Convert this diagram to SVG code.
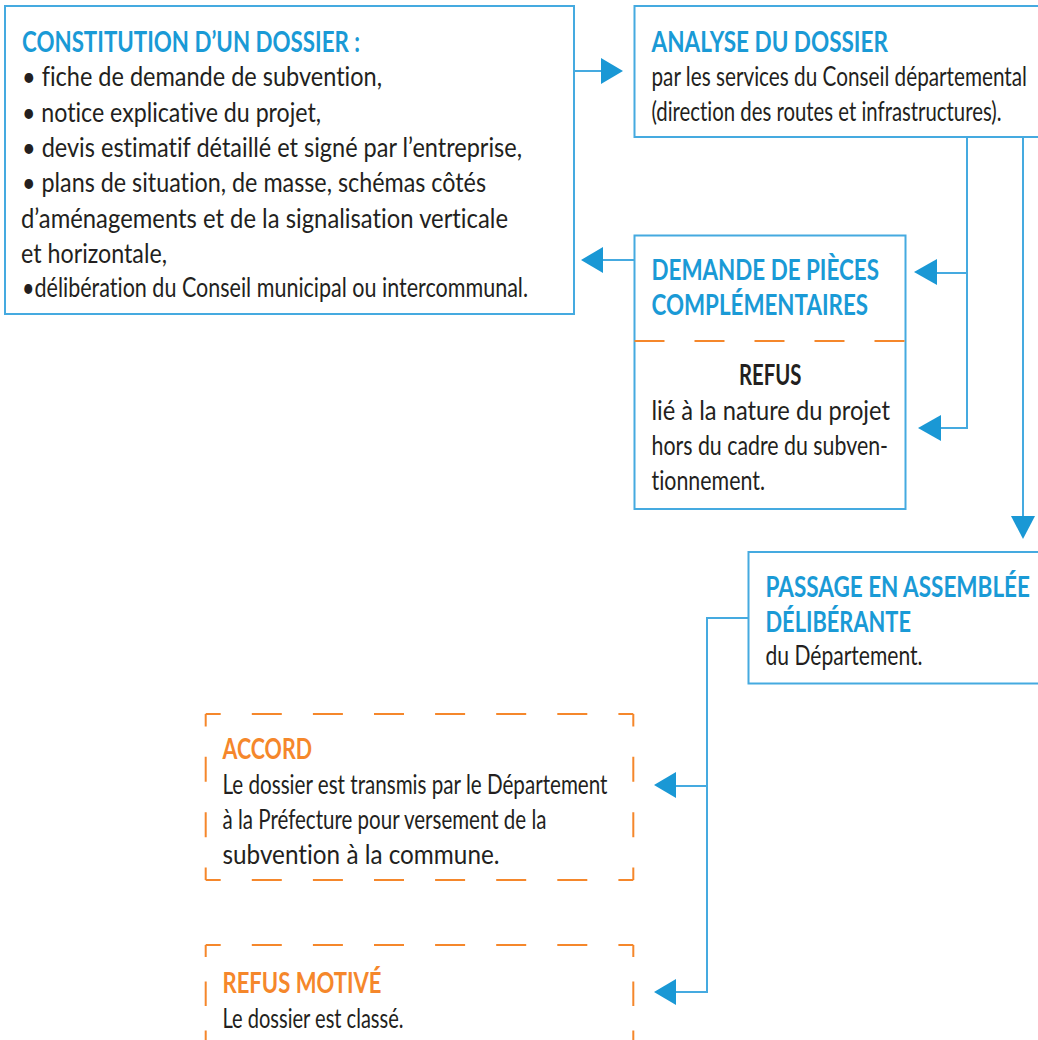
<svg xmlns="http://www.w3.org/2000/svg" width="1038" height="1040" viewBox="0 0 1038 1040">
<style>
.box{fill:#fff;stroke:#45aae0;stroke-width:2}
.ln{fill:none;stroke:#45aae0;stroke-width:2}
.ah{fill:#1a98d5}
text{font-variant-ligatures:none}
.hb{font-family:Lato,"Liberation Sans",sans-serif;font-weight:bold;font-size:28px;fill:#1a9ad6}
.ho{font-family:Lato,"Liberation Sans",sans-serif;font-weight:bold;font-size:28px;fill:#f5872b}
.hd{font-family:Lato,"Liberation Sans",sans-serif;font-weight:bold;font-size:28px;fill:#231f20}
.t{font-family:Lato,"Liberation Sans",sans-serif;font-size:27px;fill:#231f20}
.od{fill:none;stroke:#f5872b;stroke-width:2}
.h{stroke-dasharray:30 31.1;stroke-dashoffset:15}
.v{stroke-dasharray:25 30.33;stroke-dashoffset:12.5}
.v2{stroke-dasharray:24.5 24.5;stroke-dashoffset:12.5}
</style>
<rect width="1038" height="1040" fill="#fff"/>

<g id="connectors">
<line class="ln" x1="574" y1="71" x2="602" y2="71"/>
<polygon class="ah" points="601,58 623,71 601,84"/>
<line class="ln" x1="634" y1="260" x2="602" y2="260"/>
<polygon class="ah" points="603,247 581,260 603,273"/>
<polyline class="ln" points="967,137 967,428 940,428"/>
<line class="ln" x1="967" y1="273" x2="936" y2="273"/>
<polygon class="ah" points="937,259 914,272 937,285"/>
<polygon class="ah" points="941,415 918,428 941,441"/>
<line class="ln" x1="1023" y1="137" x2="1023" y2="517"/>
<polygon class="ah" points="1011,516 1035,516 1023,539"/>
<polyline class="ln" points="748,618 707,618 707,992 675,992"/>
<line class="ln" x1="707" y1="786" x2="675" y2="786"/>
<polygon class="ah" points="676,772 654,785 676,798"/>
<polygon class="ah" points="676,979 654,992 676,1005"/>
</g>

<g id="constitution">
<rect class="box" x="5" y="6" width="569" height="308"/>
<text class="hb" x="22" y="52" textLength="338" lengthAdjust="spacingAndGlyphs">CONSTITUTION D’UN DOSSIER :</text>
<text class="t" x="22" y="86" textLength="360" lengthAdjust="spacingAndGlyphs">• fiche de demande de subvention,</text>
<text class="t" x="22" y="121.5" textLength="299" lengthAdjust="spacingAndGlyphs">• notice explicative du projet,</text>
<text class="t" x="22" y="156.5" textLength="500" lengthAdjust="spacingAndGlyphs">• devis estimatif détaillé et signé par l’entreprise,</text>
<text class="t" x="22" y="192" textLength="464" lengthAdjust="spacingAndGlyphs">• plans de situation, de masse, schémas côtés</text>
<text class="t" x="21" y="227.5" textLength="487" lengthAdjust="spacingAndGlyphs">d’aménagements et de la signalisation verticale</text>
<text class="t" x="21" y="262.5" textLength="146" lengthAdjust="spacingAndGlyphs">et horizontale,</text>
<text class="t" x="22" y="297" textLength="506" lengthAdjust="spacingAndGlyphs">•délibération du Conseil municipal ou intercommunal.</text>
</g>

<g id="analyse">
<rect class="box" x="634.5" y="6" width="410" height="131"/>
<text class="hb" x="651.5" y="52" textLength="236.5" lengthAdjust="spacingAndGlyphs">ANALYSE DU DOSSIER</text>
<text class="t" x="651.5" y="86" textLength="375.5" lengthAdjust="spacingAndGlyphs">par les services du Conseil départemental</text>
<text class="t" x="651.5" y="120.5" textLength="350" lengthAdjust="spacingAndGlyphs">(direction des routes et infrastructures).</text>
</g>

<g id="demande-refus">
<rect class="box" x="634.5" y="235.5" width="271" height="273.5"/>
<line x1="634.5" y1="341" x2="905.5" y2="341" stroke="#f5872b" stroke-width="2" stroke-dasharray="30 30"/>
<text class="hb" x="651.5" y="280" textLength="227.5" lengthAdjust="spacingAndGlyphs">DEMANDE DE PIÈCES</text>
<text class="hb" x="651.5" y="315" textLength="216.5" lengthAdjust="spacingAndGlyphs">COMPLÉMENTAIRES</text>
<text class="hd" x="739" y="385" textLength="62.5" lengthAdjust="spacingAndGlyphs">REFUS</text>
<text class="t" x="651.5" y="420" textLength="238.5" lengthAdjust="spacingAndGlyphs">lié à la nature du projet</text>
<text class="t" x="651.5" y="455" textLength="236.5" lengthAdjust="spacingAndGlyphs">hors du cadre du subven-</text>
<text class="t" x="651.5" y="490" textLength="113.5" lengthAdjust="spacingAndGlyphs">tionnement.</text>
</g>

<g id="passage">
<rect class="box" x="748.5" y="552" width="300" height="131.5"/>
<text class="hb" x="765.5" y="596.5" textLength="264.5" lengthAdjust="spacingAndGlyphs">PASSAGE EN ASSEMBLÉE</text>
<text class="hb" x="765.5" y="631.5" textLength="145.5" lengthAdjust="spacingAndGlyphs">DÉLIBÉRANTE</text>
<text class="t" x="765.5" y="665" textLength="157" lengthAdjust="spacingAndGlyphs">du Département.</text>
</g>

<g id="accord">
<line class="od h" x1="205.7" y1="714" x2="633.3" y2="714"/>
<line class="od h" x1="205.7" y1="880" x2="633.3" y2="880"/>
<line class="od v" x1="205.7" y1="714" x2="205.7" y2="880"/>
<line class="od v" x1="633.3" y1="714" x2="633.3" y2="880"/>
<text class="ho" x="222.5" y="758.5" textLength="89.5" lengthAdjust="spacingAndGlyphs">ACCORD</text>
<text class="t" x="222.5" y="793.5" textLength="385" lengthAdjust="spacingAndGlyphs">Le dossier est transmis par le Département</text>
<text class="t" x="222.5" y="828.5" textLength="324" lengthAdjust="spacingAndGlyphs">à la Préfecture pour versement de la</text>
<text class="t" x="222.5" y="863.5" textLength="277" lengthAdjust="spacingAndGlyphs">subvention à la commune.</text>
</g>

<g id="refus-motive">
<line class="od h" x1="205.7" y1="945" x2="633.3" y2="945"/>
<line class="od v2" x1="205.7" y1="945" x2="205.7" y2="1060"/>
<line class="od v2" x1="633.3" y1="945" x2="633.3" y2="1060"/>
<text class="ho" x="222.5" y="992.5" textLength="159" lengthAdjust="spacingAndGlyphs">REFUS MOTIVÉ</text>
<text class="t" x="222.5" y="1027.5" textLength="181" lengthAdjust="spacingAndGlyphs">Le dossier est classé.</text>
</g>
</svg>
